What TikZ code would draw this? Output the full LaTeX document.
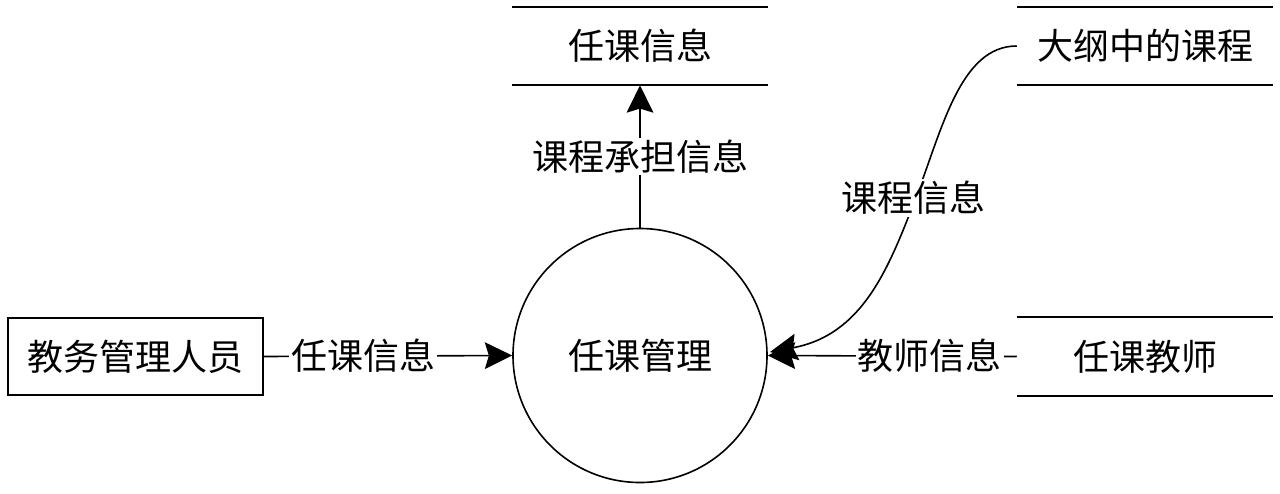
\documentclass[tikz,border=0pt]{standalone}
\usepackage{fontspec}
\setmainfont{Noto Sans CJK SC}
\usetikzlibrary{arrows.meta}
\begin{document}
\begin{tikzpicture}[x=0.75pt,y=-0.75pt,
  every node/.style={font=\fontsize{27pt}{32pt}\selectfont},
  lw/.style={line width=1.2pt},
  flow/.style={lw,-{Stealth[length=20.5pt,width=20pt,inset=3pt]}},
  entity/.style={draw,lw,minimum width=191.25pt,minimum height=57.75pt,inner sep=0pt},
  process/.style={draw,lw,circle,minimum size=190.5pt,inner sep=0pt},
  store/.style={minimum width=192pt,minimum height=58.5pt,inner sep=0pt},
  lbl/.style={fill=white,inner sep=1.5pt}]
\useasboundingbox (0,0) rectangle (1280,493);
\node[entity] (admin) at (135.5,356.5) {教务管理人员};
\node[process] (proc) at (640,355.5) {任课管理};
\node[store] (s1) at (640,46) {任课信息};
\node[store] (s2) at (1145,46) {大纲中的课程};
\node[store] (s3) at (1145,356.5) {任课教师};
\foreach \s in {s1,s2,s3}{
  \draw[lw] (\s.north west) -- (\s.north east);
  \draw[lw] (\s.south west) -- (\s.south east);
}
\draw[flow] (admin.east) -- node[lbl,pos=0.4] {任课信息} (proc.west);
\draw[flow] (s3.west) -- node[lbl,pos=0.35] {教师信息} (proc.east);
\draw[flow] (proc.north) -- node[lbl,pos=0.5] {课程承担信息} (s1.south);
\coordinate (cend) at (770,352);
\draw[flow] (s2.west) .. controls (960,46) and (942,130) .. (915,200)
  .. controls (888,270) and (862,335) .. (cend);
\node[lbl] (clbl) at (913,198) {课程信息};
\end{tikzpicture}
\end{document}
